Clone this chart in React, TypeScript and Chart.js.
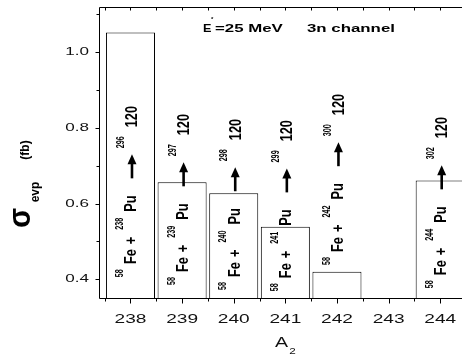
import React, { useEffect, useRef } from "react";
import { Chart, registerables } from "chart.js";

Chart.register(...registerables);

// ---- data ----
const massNumbers = [238, 239, 240, 241, 242, 243, 244];
const crossSections: (number | null)[] = [1.051, 0.656, 0.627, 0.539, 0.42, null, 0.661];
const compoundMass: (number | null)[] = [296, 297, 298, 299, 300, null, 302];
const projectileMass = "58";
const compoundZ = "120";
// y value (fb) where each rotated reaction label starts
const labelStart: (number | null)[] = [0.406, 0.385, 0.372, 0.369, 0.438, null, 0.377];
const yTickValues = [0.4, 0.6, 0.8, 1.0];
const yTickLabels = ["0.4", "0.6", "0.8", "1.0"];
const xTickLabels = ["238", "239", "240", "241", "242", "243", "244"];
const titleEnergy = "=25 MeV";
const titleChannel = "3n channel";

const FONT = '"Liberation Sans", Arial, sans-serif';

function hText(ctx: CanvasRenderingContext2D, text: string, x: number, y: number, font: string, sx: number, align: CanvasTextAlign) {
  ctx.save();
  ctx.translate(x, y);
  ctx.scale(sx, 1);
  ctx.font = font;
  ctx.textAlign = align;
  ctx.textBaseline = "middle";
  ctx.fillText(text, 0, 0);
  ctx.restore();
}

function rText(ctx: CanvasRenderingContext2D, text: string, x: number, y: number, font: string, c: number, align: CanvasTextAlign = "left", baseline: CanvasTextBaseline = "middle") {
  ctx.save();
  ctx.translate(x, y);
  ctx.rotate(-Math.PI / 2);
  ctx.scale(c, 1);
  ctx.font = font;
  ctx.textAlign = align;
  ctx.textBaseline = baseline;
  ctx.fillText(text, 0, 0);
  const w = ctx.measureText(text).width * c;
  ctx.restore();
  return w;
}

const decorPlugin = {
  id: "decor",
  afterDraw(chart: any) {
    const { ctx, chartArea: a, scales } = chart;
    const x = scales.x;
    const y = scales.y;
    ctx.save();
    ctx.strokeStyle = "#000";
    ctx.fillStyle = "#000";
    ctx.lineWidth = 1;
    const L = Math.floor(a.left) + 0.5;
    const T = Math.floor(a.top) + 0.5;
    const B = Math.floor(a.bottom) + 0.5;
    ctx.beginPath();
    ctx.moveTo(L, T);
    ctx.lineTo(L, B);
    ctx.moveTo(L, T);
    ctx.lineTo(a.right + 20, T);
    ctx.moveTo(L, B);
    ctx.lineTo(a.right + 20, B);
    // y ticks
    for (let k = 4; k <= 11; k++) {
      const py = Math.round(y.getPixelForValue(k / 10)) + 0.5;
      const len = k % 2 === 0 ? 4 : 3;
      ctx.moveTo(L - len, py);
      ctx.lineTo(L, py);
    }
    // x ticks (bottom outside, top inside)
    for (let k = 0; k <= 16; k++) {
      const v = 237.5 + k * 0.5;
      const px = Math.round(x.getPixelForValue(v)) + 0.5;
      if (px > a.right + 10) continue;
      const len = k % 2 === 1 ? 5 : 3;
      ctx.moveTo(px, B);
      ctx.lineTo(px, B + len);
      ctx.moveTo(px, T);
      ctx.lineTo(px, T + 3);
    }
    ctx.stroke();

    // tick labels
    ctx.fillStyle = "#111";
    yTickValues.forEach((v, i) => {
      hText(ctx, yTickLabels[i], a.left - 10, y.getPixelForValue(v), `11px ${FONT}`, 1.55, "right");
    });
    massNumbers.forEach((m, i) => {
      hText(ctx, xTickLabels[i], x.getPixelForValue(m), B + 20.5, `13px ${FONT}`, 1.47, "center");
    });

    // x title
    const mid = (a.left + a.right) / 2;
    hText(ctx, "A", mid - 1, B + 44.5, `14px ${FONT}`, 1.4, "center");
    hText(ctx, "2", mid + 10, B + 53, `9px ${FONT}`, 1.3, "center");

    // y title
    ctx.fillStyle = "#000";
    rText(ctx, "σ", 21.5, 218, `bold 32px ${FONT}`, 0.92, "center");
    rText(ctx, "evp", 39, 192, `bold 12px ${FONT}`, 1, "center", "alphabetic");
    rText(ctx, "(fb)", 25.5, 150, `bold 12px ${FONT}`, 1, "center");

    // chart title
    hText(ctx, "E", a.left + 104, 29, `bold 11px ${FONT}`, 1.15, "left");
    hText(ctx, "*", a.left + 112, 19, `bold 6px ${FONT}`, 1, "left");
    hText(ctx, titleEnergy, a.left + 116, 29, `bold 11px ${FONT}`, 1.53, "left");
    hText(ctx, titleChannel, a.left + 208, 29, `bold 11px ${FONT}`, 1.53, "left");

    // reaction labels
    const big = `bold 16px ${FONT}`;
    const small = `bold 10px ${FONT}`;
    const cb = 0.8;
    const cs = 0.72;
    massNumbers.forEach((m, i) => {
      const start = labelStart[i];
      const cm = compoundMass[i];
      if (start == null || cm == null) return;
      const cx = x.getPixelForValue(m);
      const y0 = y.getPixelForValue(start);
      const bx = cx + 1.5;
      const sx = bx - 11.5;
      let d = 0;
      d += rText(ctx, projectileMass, sx, y0 - d, small, cs) + 5;
      d += rText(ctx, "Fe", bx, y0 - d, big, cb) + 5;
      d += rText(ctx, "+", bx, y0 - d, big, cb) + 7;
      d += rText(ctx, String(m), sx, y0 - d, small, cs) + 6;
      d += rText(ctx, "Pu", bx, y0 - d, big, cb) + 17;
      // arrow
      const ax = cx + 1.5;
      const yb = y0 - d;
      const yt = yb - 24;
      ctx.beginPath();
      ctx.lineWidth = 2.6;
      ctx.moveTo(ax, yb);
      ctx.lineTo(ax, yt + 9);
      ctx.stroke();
      ctx.beginPath();
      ctx.moveTo(ax, yt);
      ctx.lineTo(ax - 4.5, yt + 10);
      ctx.lineTo(ax + 4.5, yt + 10);
      ctx.closePath();
      ctx.fill();
      d += 24 + 6;
      const px = cx + 2.5;
      d += rText(ctx, String(cm), px - 11.5, y0 - d, small, cs) + 9;
      rText(ctx, compoundZ, px, y0 - d, big, cb);
    });
    ctx.restore();
  },
};

export default function App() {
  const ref = useRef<HTMLCanvasElement>(null);
  useEffect(() => {
    const canvas = ref.current!;
    const chart = new Chart(canvas, {
      type: "bar",
      data: {
        datasets: [
          {
            data: massNumbers.map((m, i) => ({ x: m, y: crossSections[i] })) as any,
            backgroundColor: "#ffffff",
            borderColor: "#000000",
            borderWidth: 1,
            barPercentage: 0.95,
            categoryPercentage: 1,
          },
        ],
      },
      options: {
        responsive: false,
        animation: false,
        layout: { padding: { left: 99, top: 7, right: 14, bottom: 60 } },
        plugins: { legend: { display: false }, tooltip: { enabled: false }, title: { display: false } },
        scales: {
          x: { type: "linear", display: false, min: 237.39, max: 244.5, offset: false },
          y: { type: "linear", display: false, min: 0.351, max: 1.118 },
        },
      },
      plugins: [decorPlugin],
    });
    return () => chart.destroy();
  }, []);
  return (
    <div style={{ position: "fixed", left: 0, top: 0, width: 462, height: 358, overflow: "hidden", background: "#fff" }}>
      <canvas ref={ref} width={480} height={358} style={{ display: "block" }} />
    </div>
  );
}
